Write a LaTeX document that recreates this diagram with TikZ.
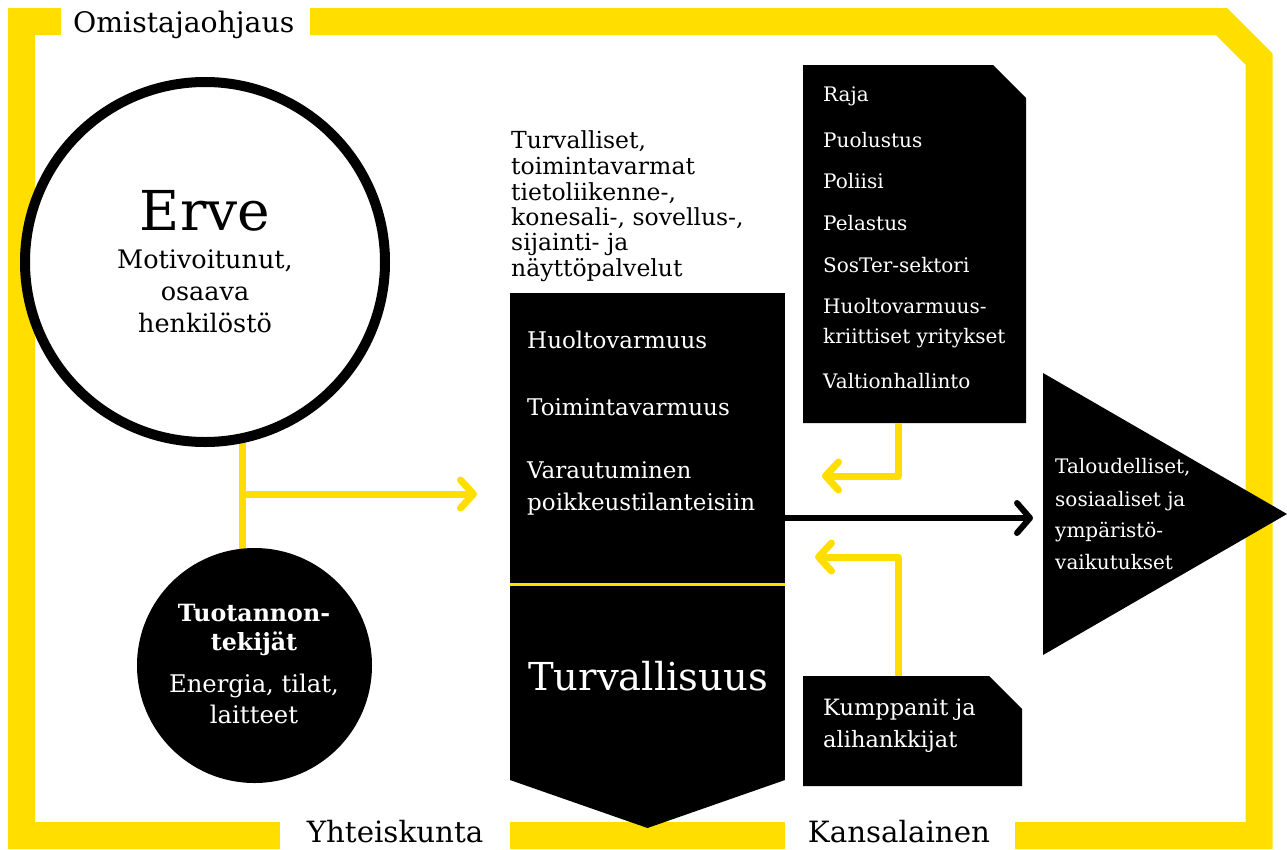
\documentclass[tikz,border=0pt]{standalone}
\usepackage{fontspec}
\setmainfont{DejaVu Serif}
\usetikzlibrary{arrows.meta,backgrounds}
\definecolor{erveyellow}{HTML}{FFDE00}

\begin{document}
\begin{tikzpicture}[x=1pt, y=-1pt,
  frame/.style={color=erveyellow, line width=27pt},
  yarrow/.style={color=erveyellow, line width=7pt, line join=round,
    -{Straight Barb[length=13pt, width=28pt, line cap=round, line join=round]}},
  barrow/.style={color=black, line width=6pt, line join=round,
    -{Straight Barb[length=13pt, width=30pt, line cap=round, line join=round]}},
  lbl/.style={anchor=base west, inner sep=0pt, font=\fontsize{20}{20}\selectfont},
  wlbl/.style={lbl, text=white},
  clbl/.style={anchor=base, inner sep=0pt, font=\fontsize{25.5}{25.5}\selectfont}]

\useasboundingbox (0,0) rectangle (1287,849);

% yellow frame
\draw[frame] (61,21.5) -- (21.5,21.5) -- (21.5,835.5) -- (280,835.5);
\draw[frame] (510,835.5) -- (785,835.5);
\draw[frame] (310,21.5) -- (1221.5,21.5) -- (1259,59) -- (1259,835.5) -- (1015,835.5);

\node[lbl, font=\fontsize{28.3}{28}\selectfont] (owner) at (73,32) {Omistajaohjaus};
\node[clbl, font=\fontsize{29.3}{29}\selectfont] (society) at (395,842) {Yhteiskunta};
\node[clbl, font=\fontsize{29.3}{29}\selectfont] (citizen) at (899,842) {Kansalainen};

% personnel
\node[circle, draw, line width=10pt, fill=white, minimum size=360pt, inner sep=0pt] (erve) at (205,262) {};
\node[clbl, font=\fontsize{55}{55}\selectfont] (ervename) at (205,230) {Erve};
\node[clbl] (staff1) at (205,268) {Motivoitunut,};
\node[clbl] (staff2) at (205,300) {osaava};
\node[clbl] (staff3) at (205,332) {henkilöstö};

% production factors
\node[circle, fill=black, minimum size=235pt, inner sep=0pt] (tuot) at (254.5,665.5) {};
\node[clbl, text=white, font=\bfseries\fontsize{23.7}{23}\selectfont] (tuot1) at (254,621) {Tuotannon-};
\node[clbl, text=white, font=\bfseries\fontsize{23.7}{23}\selectfont] (tuot2) at (254,650) {tekijät};
\node[clbl, text=white, font=\fontsize{24.3}{24}\selectfont] (tuot3) at (254,692) {Energia, tilat,};
\node[clbl, text=white, font=\fontsize{24.3}{24}\selectfont] (tuot4) at (254,723) {laitteet};

% services
\node[lbl, font=\fontsize{23.5}{23}\selectfont] (serv1) at (511,148) {Turvalliset,};
\node[lbl, font=\fontsize{23.5}{23}\selectfont] (serv2) at (511,174) {toimintavarmat};
\node[lbl, font=\fontsize{23.5}{23}\selectfont] (serv3) at (511,200) {tietoliikenne-,};
\node[lbl, font=\fontsize{23.5}{23}\selectfont] (serv4) at (511,225) {konesali-, sovellus-,};
\node[lbl, font=\fontsize{23.5}{23}\selectfont] (serv5) at (511,250) {sijainti- ja};
\node[lbl, font=\fontsize{23.5}{23}\selectfont] (serv6) at (511,276) {näyttöpalvelut};

% security column
\node[fill=black, minimum width=275pt, minimum height=487pt, inner sep=0pt, outer sep=0pt] (sec) at (647.5,536.5) {};
\fill (sec.south west) -- (647.5,828) -- (sec.south east) -- cycle;
\draw[erveyellow, line width=3pt] (sec.west |- 0,584) -- (sec.east |- 0,584);
\node[wlbl, font=\fontsize{23}{23}\selectfont] (sec1) at (527,348) {Huoltovarmuus};
\node[wlbl, font=\fontsize{23}{23}\selectfont] (sec2) at (527,415) {Toimintavarmuus};
\node[wlbl, font=\fontsize{23}{23}\selectfont] (sec3) at (527,478) {Varautuminen};
\node[wlbl, font=\fontsize{23}{23}\selectfont] (sec4) at (527,510) {poikkeustilanteisiin};
\node[wlbl, font=\fontsize{38.5}{38}\selectfont] (secname) at (528,690) {Turvallisuus};

% customers
\fill (803,65) -- (993,65) -- (1026,98) -- (1026,423) -- (803,423) -- cycle;
\node[wlbl] (cust1) at (823,101) {Raja};
\node[wlbl] (cust2) at (823,147) {Puolustus};
\node[wlbl] (cust3) at (823,188) {Poliisi};
\node[wlbl] (cust4) at (823,230) {Pelastus};
\node[wlbl] (cust5) at (823,272) {SosTer-sektori};
\node[wlbl] (cust6) at (823,313) {Huoltovarmuus-};
\node[wlbl] (cust7) at (823,343) {kriittiset yritykset};
\node[wlbl] (cust8) at (823,388) {Valtionhallinto};

% partners
\fill (803,676) -- (989,676) -- (1022,709) -- (1022,786) -- (803,786) -- cycle;
\node[wlbl, font=\fontsize{22.5}{22}\selectfont] (part1) at (823,715) {Kumppanit ja};
\node[wlbl, font=\fontsize{22.5}{22}\selectfont] (part2) at (823,747) {alihankkijat};

% impacts
\fill (1043,373) -- (1287,514) -- (1043,655) -- cycle;
\node[wlbl] (imp1) at (1055,473) {Taloudelliset,};
\node[wlbl] (imp2) at (1055,506) {sosiaaliset ja};
\node[wlbl] (imp3) at (1055,537) {ympäristö-};
\node[wlbl] (imp4) at (1055,569) {vaikutukset};

% connectors
\coordinate (fork) at (242,494);
\coordinate (agency) at (898,423);
\coordinate (back1) at (822,476);
\coordinate (partners) at (898,676);
\coordinate (back2) at (815,557);
\coordinate (impact) at (1043,518);

\begin{scope}[on background layer]
\draw[erveyellow, line width=7pt] (fork |- erve.center) -- (fork |- tuot.center);
\end{scope}
\draw[yarrow] (fork) -- ([xshift=-33pt]fork -| sec.west);
\draw[yarrow] (agency) |- (back1);
\draw[yarrow] (partners) |- (back2);
\draw[barrow] (sec.east |- impact) -- ([xshift=-10pt]impact);

\end{tikzpicture}
\end{document}
